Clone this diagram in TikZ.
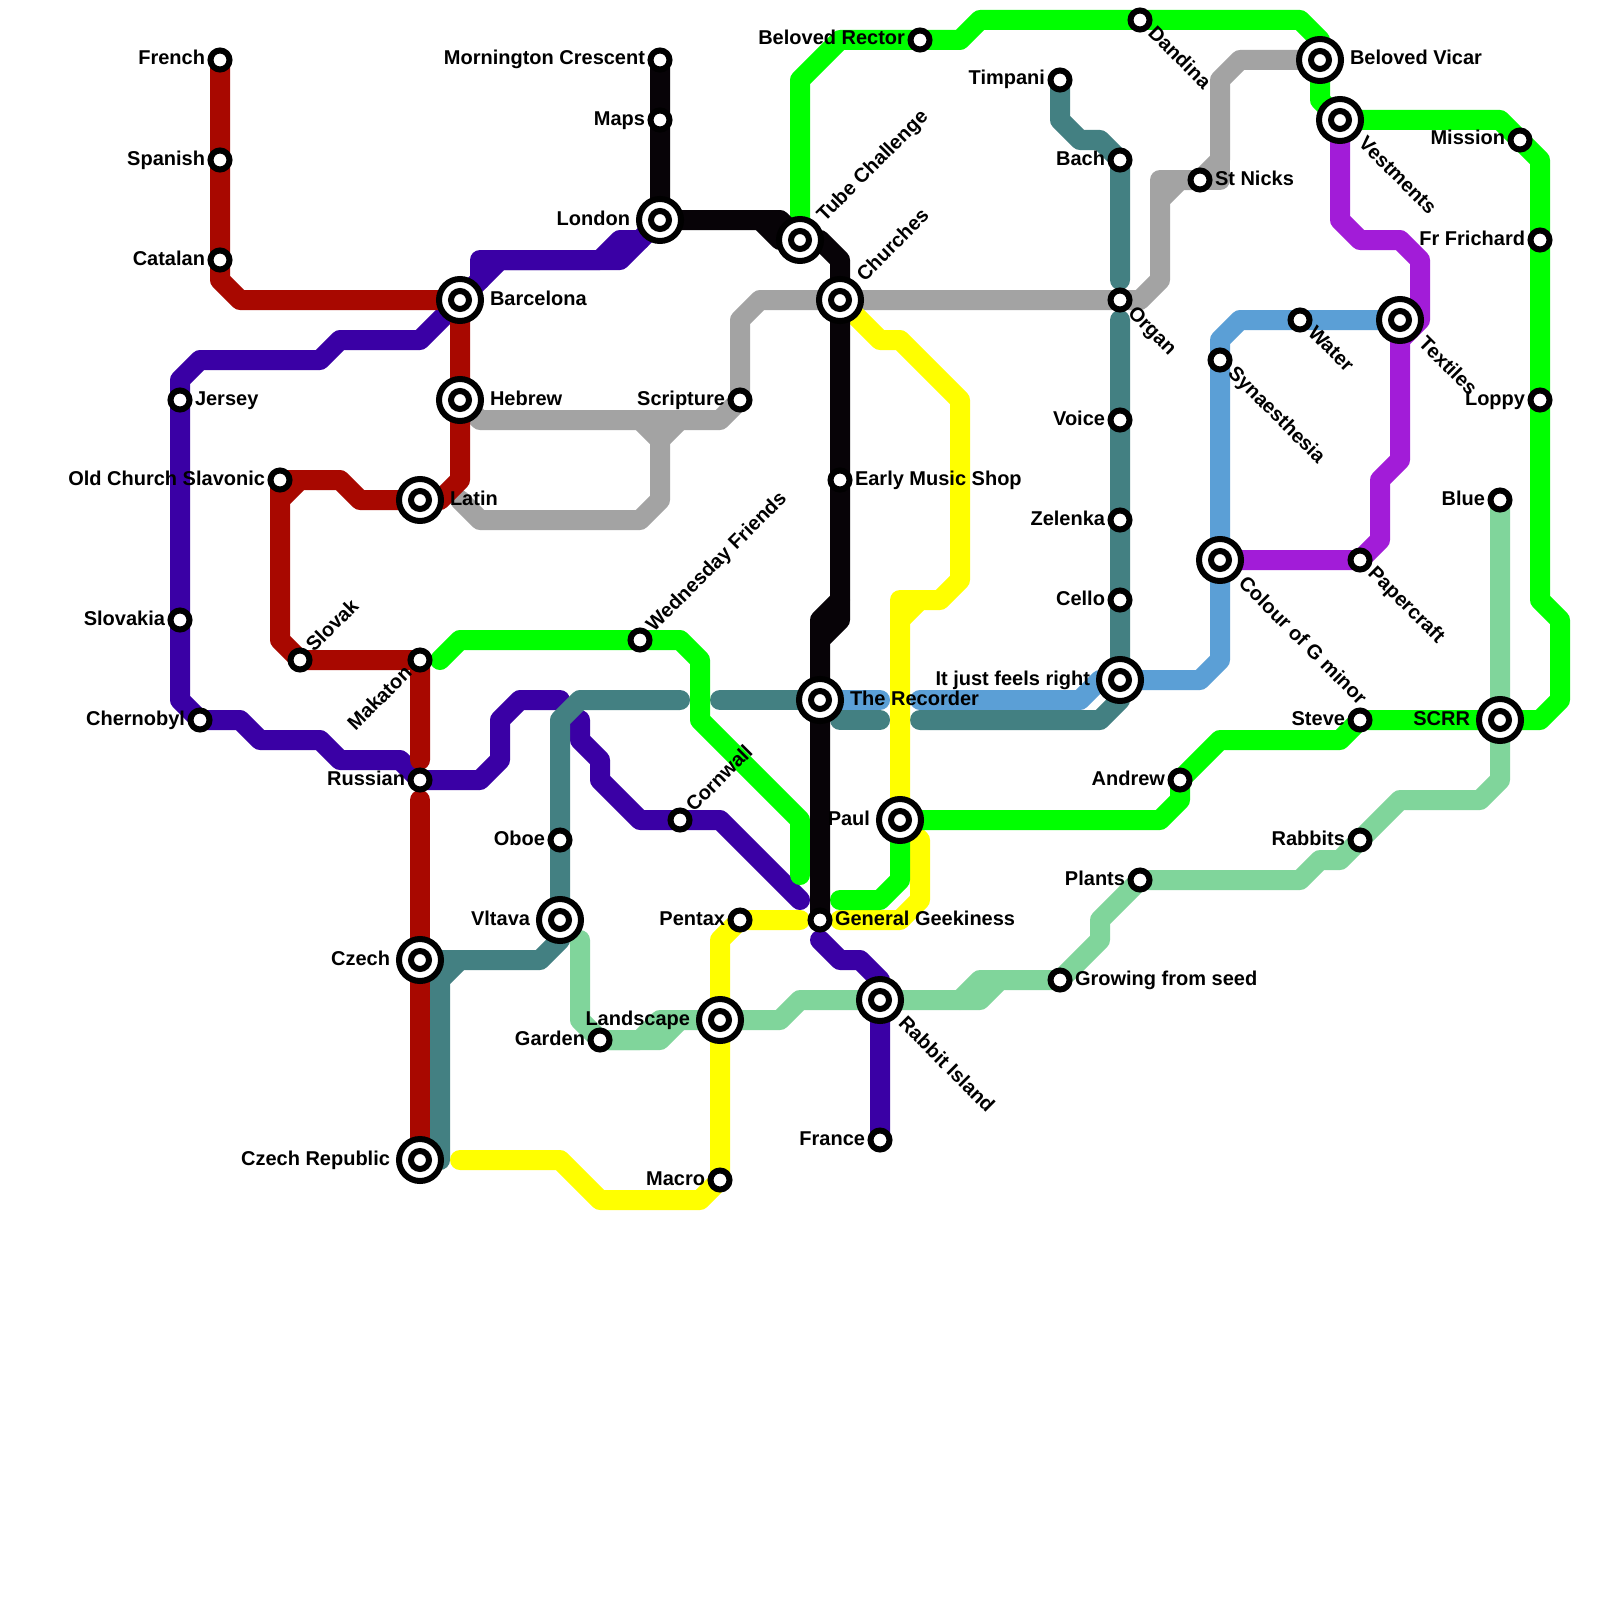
\documentclass[tikz,border=0pt]{standalone}
\usepackage{fontspec}
\setmainfont{Liberation Sans}
\definecolor{cRed}{HTML}{A80800}
\definecolor{cIndigo}{HTML}{3A00A5}
\definecolor{cBlack}{HTML}{070307}
\definecolor{cGray}{HTML}{A3A3A3}
\definecolor{cTeal}{HTML}{438082}
\definecolor{cGreen}{HTML}{00FF00}
\definecolor{cYellow}{HTML}{FFFF00}
\definecolor{cBlue}{HTML}{5B9FD6}
\definecolor{cPurple}{HTML}{A21CD8}
\definecolor{cMint}{HTML}{80D59B}
\tikzset{
  metro/.style={line width=20pt,line cap=round,line join=round},
  stn/.style={circle,draw=black,fill=white,line width=6pt,minimum size=19pt,inner sep=0pt,outer sep=0pt},
  xbig/.style={circle,draw=black,fill=white,line width=6pt,minimum size=42pt,inner sep=0pt,outer sep=0pt},
  xin/.style={circle,draw=black,fill=white,line width=6pt,minimum size=18pt,inner sep=0pt,outer sep=0pt},
  lab/.style={inner sep=0pt,outer sep=0pt,text=black,font=\fontsize{20}{20}\selectfont\bfseries}
}
\newcommand{\LabR}[3]{\node[lab,anchor=base west] (l-#1) at ([shift={(#2pt,-5pt)}]#1) {#3};}
\newcommand{\LabL}[3]{\node[lab,anchor=base east] (l-#1) at ([shift={(-#2pt,-5pt)}]#1) {#3};}
\newcommand{\LabU}[3]{\path (#1) ++(45:#2pt) ++(-45:5pt) node[lab,rotate=45,anchor=base west] (l-#1) {#3};}
\newcommand{\LabD}[3]{\path (#1) ++(-45:#2pt) ++(-135:5pt) node[lab,rotate=-45,anchor=base west] (l-#1) {#3};}
\newcommand{\LabM}[3]{\path (#1) ++(225:#2pt) ++(-45:5pt) node[lab,rotate=45,anchor=base east] (l-#1) {#3};}
\newcommand{\StnS}[1]{\node[stn] (s-#1) at (#1) {};}
\newcommand{\StnX}[1]{\node[xbig] (s-#1) at (#1) {};\node[xin] (i-#1) at (#1) {};}
\begin{document}
\begin{tikzpicture}[x=1pt,y=-1pt]
\useasboundingbox (0,0) rectangle (1600,1600);
\fill[white] (0,0) rectangle (1600,1600);
% station positions
\foreach \n/\x/\y in {French/220/60,Spanish/220/160,Catalan/220/260,Barcelona/460/300,Hebrew/460/400,Latin/420/500,
 OCS/280/480,Slovak/300/660,Makaton/420/660,Russian/420/780,Czech/420/960,CzechRep/420/1160,Jersey/180/400,Slovakia/180/620,
 Chernobyl/200/720,London/660/220,Mornington/660/60,Maps/660/120,Tube/800/240,Churches/840/300,Early/840/480,Recorder/820/700,
 General/820/920,Wednesday/640/640,Cornwall/680/820,Scripture/740/400,Oboe/560/840,Vltava/560/920,Garden/600/1040,Landscape/720/1020,
 Pentax/740/920,Macro/720/1180,France/880/1140,Rabbit/880/1000,Paul/900/820,Growing/1060/980,Plants/1140/880,Rabbits/1360/840,
 Andrew/1180/780,Steve/1360/720,SCRR/1500/720,Blue/1500/500,Loppy/1540/400,Frichard/1540/240,Mission/1520/140,Vestments/1340/120,
 Vicar/1320/60,Dandina/1140/20,Rector/920/40,Timpani/1060/80,Bach/1120/160,Organ/1120/300,Voice/1120/420,Zelenka/1120/520,
 Cello/1120/600,Right/1120/680,StNicks/1200/180,Water/1300/320,Textiles/1400/320,Synaesthesia/1220/360,Colour/1220/560,Papercraft/1360/560}
 {\coordinate (\n) at (\x,\y);}
% gray
\draw[metro,cGray] (Hebrew) -- (480,420) -- (720,420) -- (Scripture) -- (740,320) -- (760,300) -- (Churches) -- (Organ) -- (1140,300) -- (1160,280) -- (1160,200) -- (1180,180) -- (StNicks) -- (1220,160) -- (1220,80) -- (1240,60) -- (Vicar);
\draw[metro,cGray] (1160,200) -- (1160,180) -- (1220,180) -- (1220,160);
\draw[metro,cGray] (640,420) -- (660,440) -- (660,500) -- (640,520) -- (480,520) -- (460,500);
\draw[metro,cGray] (680,420) -- (660,440);
% mint
\draw[metro,cMint] (Blue) -- (SCRR) -- (1500,780) -- (1480,800) -- (1400,800) -- (Rabbits) -- (1340,860) -- (1320,860) -- (1300,880) -- (Plants) -- (1100,920) -- (1100,940) -- (Growing) -- (1000,980) -- (980,1000) -- (Rabbit) -- (800,1000) -- (780,1020) -- (Landscape) -- (660,1020) -- (640,1040) -- (Garden) -- (580,1020) -- (580,940);
\draw[metro,cMint] (1000,980) -- (980,980) -- (960,1000);
\draw[metro,cMint] (680,1020) -- (660,1040) -- (Garden);
% indigo
\draw[metro,cIndigo] (London) -- (620,260) -- (500,260) -- (Barcelona) -- (420,340) -- (340,340) -- (320,360) -- (200,360) -- (180,380) -- (Jersey) -- (Slovakia) -- (180,700) -- (Chernobyl) -- (240,720) -- (260,740) -- (320,740) -- (340,760) -- (400,760) -- (Russian) -- (480,780) -- (500,760) -- (500,720) -- (520,700) -- (560,700);
\draw[metro,cIndigo] (480,280) -- (480,260) -- (600,260) -- (620,240) -- (640,240);
\draw[metro,cIndigo] (580,720) -- (580,740) -- (600,760) -- (600,780) -- (640,820) -- (Cornwall) -- (720,820) -- (800,900);
\draw[metro,cIndigo] (820,940) -- (840,960) -- (860,960) -- (880,980) -- (Rabbit) -- (France);
% blue
\draw[metro,cBlue] (Textiles) -- (Water) -- (1240,320) -- (1220,340) -- (Synaesthesia) -- (Colour) -- (1220,660) -- (1200,680) -- (Right) -- (1100,680) -- (1080,700) -- (920,700);
\draw[metro,cBlue] (880,700) -- (Recorder);
% teal
\draw[metro,cTeal] (Timpani) -- (1060,120) -- (1080,140) -- (1100,140) -- (Bach) -- (1120,280);
\draw[metro,cTeal] (1120,320) -- (Voice) -- (Zelenka) -- (Cello) -- (Right) -- (1120,700) -- (1100,720) -- (920,720);
\draw[metro,cTeal] (880,720) -- (840,720);
\draw[metro,cTeal] (Recorder) -- (720,700);
\draw[metro,cTeal] (680,700) -- (580,700) -- (560,720) -- (Oboe) -- (Vltava) -- (560,940) -- (540,960) -- (Czech);
\draw[metro,cTeal] (460,960) -- (440,980) -- (440,1160) -- (CzechRep);
% purple
\draw[metro,cPurple] (Vestments) -- (1340,220) -- (1360,240) -- (1400,240) -- (1420,260) -- (1420,320) -- (1400,340) -- (Textiles);
\draw[metro,cPurple] (1400,340) -- (1400,460) -- (1380,480) -- (1380,540) -- (Papercraft) -- (Colour);
% yellow
\draw[metro,cYellow] (Churches) -- (880,340) -- (900,340) -- (960,400) -- (960,580) -- (940,600) -- (900,600) -- (Paul) -- (920,840) -- (920,900) -- (900,920) -- (840,920);
\draw[metro,cYellow] (920,600) -- (900,620);
\draw[metro,cYellow] (800,920) -- (Pentax) -- (720,940) -- (Landscape) -- (Macro) -- (700,1200) -- (600,1200) -- (560,1160) -- (460,1160);
% green
\draw[metro,cGreen] (440,660) -- (460,640) -- (Wednesday) -- (680,640) -- (700,660) -- (700,720) -- (800,820) -- (800,875);
\draw[metro,cGreen] (840,900) -- (880,900) -- (900,880) -- (Paul) -- (1160,820) -- (1180,800) -- (Andrew) -- (1220,740) -- (1340,740) -- (Steve) -- (SCRR) -- (1540,720) -- (1560,700) -- (1560,620) -- (1540,600) -- (Loppy) -- (Frichard) -- (1540,160) -- (Mission) -- (1500,120) -- (Vestments) -- (1320,100) -- (Vicar) -- (1320,40) -- (1300,20) -- (Dandina) -- (980,20) -- (960,40) -- (Rector) -- (840,40) -- (800,80) -- (Tube);
% red
\draw[metro,cRed] (French) -- (Spanish) -- (Catalan) -- (220,280) -- (240,300) -- (Barcelona) -- (Hebrew) -- (460,480) -- (440,500) -- (Latin) -- (360,500) -- (340,480) -- (OCS) -- (300,480) -- (280,500) -- (280,640) -- (Slovak) -- (Makaton) -- (420,760);
\draw[metro,cRed] (OCS) -- (280,500);
\draw[metro,cRed] (420,800) -- (Czech) -- (CzechRep);
% black
\draw[metro,cBlack] (Mornington) -- (Maps) -- (London) -- (780,220) -- (Tube) -- (820,240) -- (840,260) -- (Churches) -- (Early) -- (840,620) -- (820,640) -- (Recorder) -- (General);
\draw[metro,cBlack] (760,220) -- (780,240) -- (Tube);
\draw[metro,cBlack] (840,600) -- (820,620) -- (820,640);
% stations
\foreach \n in {French,Spanish,Catalan,OCS,Slovak,Makaton,Russian,Jersey,Slovakia,Chernobyl,Mornington,Maps,Early,General,Wednesday,Cornwall,Scripture,Oboe,Garden,Pentax,Macro,France,Growing,Plants,Rabbits,Andrew,Steve,Blue,Loppy,Frichard,Mission,Dandina,Rector,Timpani,Bach,Organ,Voice,Zelenka,Cello,StNicks,Water,Synaesthesia,Papercraft}{\StnS{\n}}
\foreach \n in {Barcelona,Hebrew,Latin,Czech,CzechRep,London,Tube,Churches,Recorder,Vltava,Landscape,Rabbit,Paul,SCRR,Vestments,Vicar,Right,Textiles,Colour}{\StnX{\n}}
% labels
\LabL{French}{15}{French}
\LabL{Spanish}{15}{Spanish}
\LabL{Catalan}{15}{Catalan}
\LabL{OCS}{15}{Old Church Slavonic}
\LabL{Slovakia}{15}{Slovakia}
\LabL{Chernobyl}{15}{Chernobyl}
\LabL{Russian}{15}{Russian}
\LabL{Czech}{30}{Czech}
\LabL{CzechRep}{30}{Czech Republic}
\LabL{Mornington}{15}{Mornington Crescent}
\LabL{Maps}{15}{Maps}
\LabL{London}{30}{London}
\LabL{Scripture}{15}{Scripture}
\LabL{Oboe}{15}{Oboe}
\LabL{Vltava}{30}{Vltava}
\LabL{Garden}{15}{Garden}
\LabL{Landscape}{30}{Landscape}
\LabL{Pentax}{15}{Pentax}
\LabL{Macro}{15}{Macro}
\LabL{France}{15}{France}
\LabL{Paul}{30}{Paul}
\LabL{Right}{30}{It just feels right}
\LabL{Timpani}{15}{Timpani}
\LabL{Bach}{15}{Bach}
\LabL{Voice}{15}{Voice}
\LabL{Zelenka}{15}{Zelenka}
\LabL{Cello}{15}{Cello}
\LabL{Andrew}{15}{Andrew}
\LabL{Plants}{15}{Plants}
\LabL{Rector}{15}{Beloved Rector}
\LabL{Mission}{15}{Mission}
\LabL{Frichard}{15}{Fr Frichard}
\LabL{Loppy}{15}{Loppy}
\LabL{Blue}{15}{Blue}
\LabL{Steve}{15}{Steve}
\LabL{SCRR}{30}{SCRR}
\LabL{Rabbits}{15}{Rabbits}
\LabR{Jersey}{15}{Jersey}
\LabR{Barcelona}{30}{Barcelona}
\LabR{Hebrew}{30}{Hebrew}
\LabR{Latin}{30}{Latin}
\LabR{Early}{15}{Early Music Shop}
\LabR{Recorder}{30}{The Recorder}
\LabR{General}{15}{General Geekiness}
\LabR{Growing}{15}{Growing from seed}
\LabR{StNicks}{15}{St Nicks}
\LabR{Vicar}{30}{Beloved Vicar}
\LabU{Slovak}{15}{Slovak}
\LabU{Wednesday}{15}{Wednesday Friends}
\LabU{Cornwall}{15}{Cornwall}
\LabU{Tube}{30}{Tube Challenge}
\LabU{Churches}{30}{Churches}
\LabM{Makaton}{15}{Makaton}
\LabD{Dandina}{15}{Dandina}
\LabD{Organ}{15}{Organ}
\LabD{Vestments}{30}{Vestments}
\LabD{Water}{15}{Water}
\LabD{Textiles}{30}{Textiles}
\LabD{Synaesthesia}{15}{Synaesthesia}
\LabD{Colour}{30}{Colour of G minor}
\LabD{Papercraft}{15}{Papercraft}
\LabD{Rabbit}{30}{Rabbit Island}
\end{tikzpicture}
\end{document}
